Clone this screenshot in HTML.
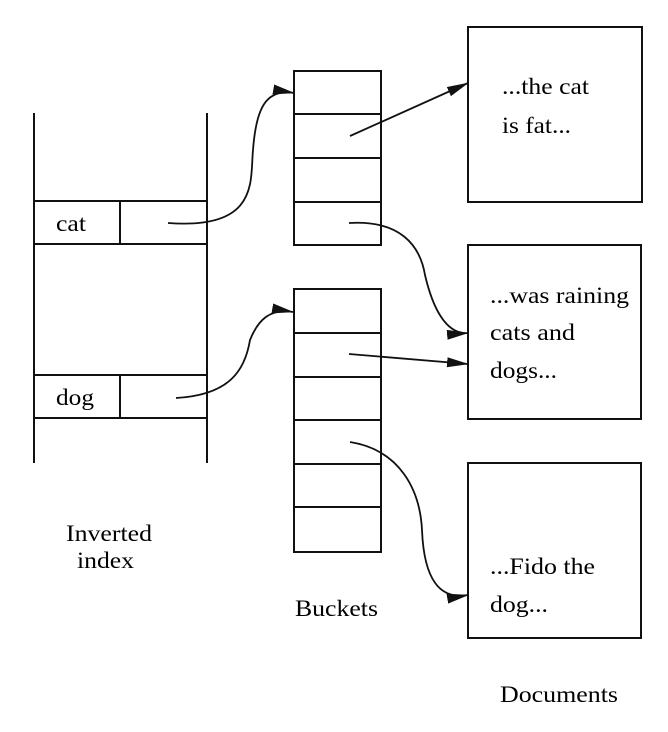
<!DOCTYPE html>
<html><head><style>
html,body{margin:0;padding:0;background:#fff;}
svg{display:block}
text{font-family:"Liberation Serif",serif;font-size:23px;fill:#000}
</style></head><body>
<svg width="668" height="732" viewBox="0 0 668 732" xmlns="http://www.w3.org/2000/svg">
<defs>
<marker id="a" markerWidth="22" markerHeight="10" refX="21" refY="5" orient="auto" markerUnits="userSpaceOnUse">
<path d="M0,0 L22,5 L0,10 z" fill="#111"/></marker>
</defs>
<g stroke="#111" stroke-width="2" fill="none">
<line x1="34" y1="113" x2="34" y2="463"/>
<line x1="207" y1="113" x2="207" y2="463"/>
<line x1="34" y1="201" x2="207" y2="201"/>
<line x1="34" y1="244" x2="207" y2="244"/>
<line x1="120" y1="201" x2="120" y2="244"/>
<line x1="34" y1="375" x2="207" y2="375"/>
<line x1="34" y1="418" x2="207" y2="418"/>
<line x1="120" y1="375" x2="120" y2="418"/>
<rect x="294" y="71" width="87" height="174"/>
<line x1="294" y1="114" x2="381" y2="114"/>
<line x1="294" y1="158" x2="381" y2="158"/>
<line x1="294" y1="202" x2="381" y2="202"/>
<rect x="294" y="289" width="87" height="263"/>
<line x1="294" y1="333" x2="381" y2="333"/>
<line x1="294" y1="377" x2="381" y2="377"/>
<line x1="294" y1="420" x2="381" y2="420"/>
<line x1="294" y1="464" x2="381" y2="464"/>
<line x1="294" y1="507" x2="381" y2="507"/>
<rect x="468" y="27" width="174" height="175"/>
<rect x="468" y="245" width="173" height="174"/>
<rect x="468" y="463" width="173" height="175"/>
<path d="M168,223 C260,230 250,180 253,150 C256,110 265,88 294,93" marker-end="url(#a)" stroke-width="1.8"/>
<path d="M176,398 C230,395 245,370 250,340 C258,320 270,308 293,312" marker-end="url(#a)" stroke-width="1.8"/>
<path d="M350,136 L468,83" marker-end="url(#a)" stroke-width="1.8"/>
<path d="M349,223 C400,220 420,245 425,275 C432,305 445,335 468,333" marker-end="url(#a)" stroke-width="1.8"/>
<path d="M349,354 L468,364" marker-end="url(#a)" stroke-width="1.8"/>
<path d="M350,442 C400,450 420,490 422,530 C424,580 440,600 468,595" marker-end="url(#a)" stroke-width="1.8"/>
</g>
<text x="56" y="231" textLength="30" lengthAdjust="spacingAndGlyphs">cat</text>
<text x="56" y="405" textLength="38" lengthAdjust="spacingAndGlyphs">dog</text>
<text x="502" y="94" textLength="87" lengthAdjust="spacingAndGlyphs">...the cat</text>
<text x="502" y="133" textLength="69" lengthAdjust="spacingAndGlyphs">is fat...</text>
<text x="490" y="303" textLength="139" lengthAdjust="spacingAndGlyphs">...was raining</text>
<text x="490" y="340" textLength="85" lengthAdjust="spacingAndGlyphs">cats and</text>
<text x="490" y="378" textLength="67" lengthAdjust="spacingAndGlyphs">dogs...</text>
<text x="490" y="574" textLength="105" lengthAdjust="spacingAndGlyphs">...Fido the</text>
<text x="490" y="612" textLength="58" lengthAdjust="spacingAndGlyphs">dog...</text>
<text x="66" y="541" textLength="86" lengthAdjust="spacingAndGlyphs">Inverted</text>
<text x="77" y="568" textLength="57" lengthAdjust="spacingAndGlyphs">index</text>
<text x="295" y="616" textLength="83" lengthAdjust="spacingAndGlyphs">Buckets</text>
<text x="500" y="702" textLength="118" lengthAdjust="spacingAndGlyphs">Documents</text>
</svg>
</body></html>
